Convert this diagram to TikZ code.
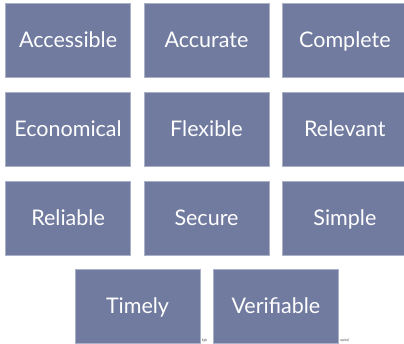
\documentclass[tikz,border=0pt]{standalone}
\usepackage{fontspec}
\setmainfont{Lato}
\usepackage{tikz}
\usetikzlibrary{matrix,positioning}
\definecolor{qualblue}{HTML}{717BA0}

\begin{document}
\begin{tikzpicture}[x=1pt,y=1pt
  ,font=\fontsize{21.5}{25}\selectfont]
  \tikzstyle{quality}=[
  fill=qualblue,draw=qualblue!60!white,line width=0.4pt,
  text=white,minimum width=125pt,minimum height=74pt,
  text height=17pt,text depth=2.4pt,
  inner sep=0pt,anchor=center]
  \tikzstyle{stray}=[
  font=\fontsize{3.5}{4}\selectfont,text=black!70,inner sep=0pt]

  \useasboundingbox (0,0) rectangle (404,343);

  \matrix (m) [matrix of nodes
  ,nodes=quality
  ,row sep=14.5pt,column sep=13pt] at (206.5,214)
  {
    % first row
    Accessible & Accurate & Complete \\
    % second row
    Economical & Flexible & Relevant \\
    % third row
    Reliable & Secure & Simple \\
  };

  % 2 boxes bottom, centred under the middle column
  \node[quality,below=14pt of m-3-2,xshift=-69pt](timely) {Timely};
  \node[quality,right=13pt of timely](verif) {Verifiable};

  \node[stray,anchor=south west] (lgh) at ([xshift=1.5pt,yshift=1pt]timely.south east) {ligh};
  \node[stray,anchor=south west] (cop) at ([xshift=1.5pt,yshift=1pt]verif.south east) {opied};

\end{tikzpicture}
\end{document}
